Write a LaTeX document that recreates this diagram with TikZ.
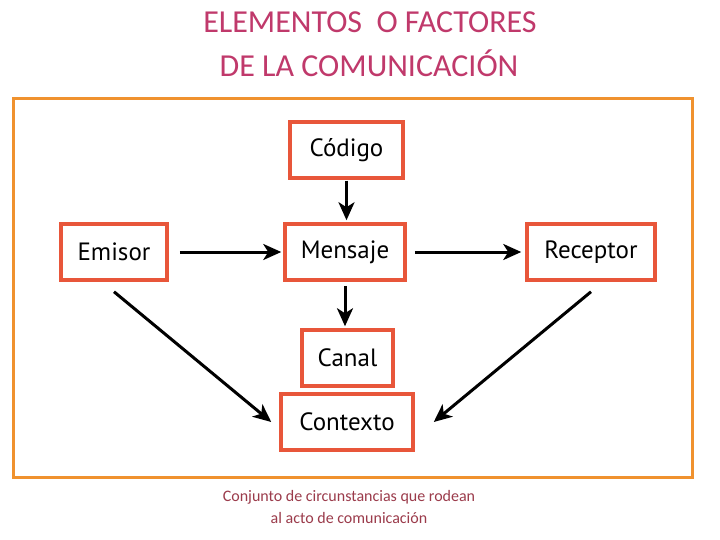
\documentclass[tikz,border=0pt]{standalone}
\usepackage{fontspec}
\setmainfont{Carlito}
\newfontfamily\boxfont{PT Sans}
\usetikzlibrary{arrows.meta}
\definecolor{frameorange}{HTML}{F0922E}
\definecolor{boxred}{HTML}{E8563A}
\definecolor{titlepink}{HTML}{C0396B}
\definecolor{notered}{HTML}{9B3B4B}
\tikzset{
  elbox/.style={draw=boxred, line width=3.5pt, minimum height=56pt, inner sep=0pt,
    font=\boxfont\fontsize{25}{28}\selectfont, text=black},
  arr/.style={line width=3pt, -{Stealth[length=18pt,width=16pt,inset=5pt]}},
  titletext/.style={text=titlepink, font=\fontsize{32}{36}\selectfont},
  notetext/.style={text=notered, font=\fontsize{16}{18}\selectfont}
}
\begin{document}
\begin{tikzpicture}[x=1pt,y=-1pt]
\useasboundingbox (0,0) rectangle (720,540);
\fill[white] (0,0) rectangle (720,540);
\node[titletext] (t1) at (370,22) {ELEMENTOS\ \ O FACTORES};
\node[titletext] (t2) at (369,63) {DE LA COMUNICACIÓN};
\node[draw=frameorange, line width=3pt, minimum width=679pt, minimum height=378pt, inner sep=0pt] (frame) at (352.5,288) {};
\node[elbox, minimum width=113pt] (codigo) at (346.5,150) {Código};
\node[elbox, minimum width=106pt] (emisor) at (114,252) {Emisor};
\node[elbox, minimum width=120pt] (mensaje) at (345,252) {Mensaje};
\node[elbox, minimum width=128pt] (receptor) at (591,252) {Receptor};
\node[elbox, minimum width=91pt] (canal) at (347.5,358) {Canal};
\node[elbox, minimum width=132pt] (contexto) at (347,422) {Contexto};
\draw[arr, shorten <=1pt, shorten >=2pt] (codigo.south) -- (codigo.south |- mensaje.north);
\draw[arr, shorten <=11pt, shorten >=2pt] (emisor.east) -- (mensaje.west);
\draw[arr, shorten <=8pt, shorten >=4pt] (mensaje.east) -- (receptor.west);
\draw[arr, shorten <=4pt, shorten >=2pt] (mensaje.south) -- (mensaje.south |- canal.north);
\draw[arr] ([yshift=-10pt]emisor.south) -- ([xshift=-8pt]contexto.west);
\draw[arr] ([yshift=-10pt]receptor.south) -- ([xshift=19pt]contexto.east);
\node[notetext] (n1) at (349,497) {Conjunto de circunstancias que rodean};
\node[notetext] (n2) at (349,518) {al acto de comunicación};
\end{tikzpicture}
\end{document}
